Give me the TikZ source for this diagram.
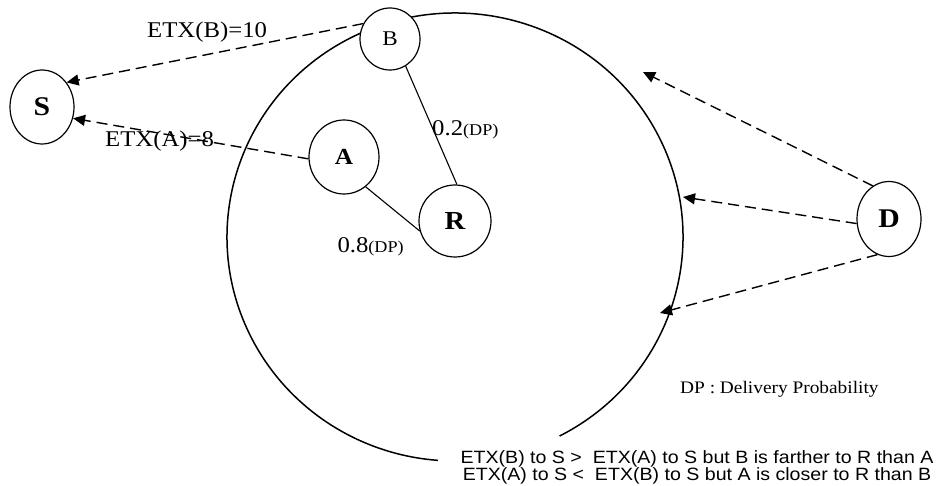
\documentclass[tikz,border=0pt]{standalone}
\usepackage{fontspec}
\setmainfont{Liberation Serif}[FakeStretch=1.1]
\newfontfamily\arialfont{Liberation Sans}[FakeStretch=1.1]
\usetikzlibrary{arrows.meta,shapes.geometric}
\begin{document}
\begin{tikzpicture}[x=1pt,y=1pt,
  nd/.style={draw,fill=white,ellipse,line width=1.2pt,inner sep=0pt},
  dasharrow/.style={line width=1.4pt,dash pattern=on 11pt off 6pt,-{Triangle[length=12pt,width=11pt]}},
  link/.style={line width=1.1pt},
  lbl/.style={inner sep=0pt,anchor=base west,font=\fontsize{22.5}{24}\selectfont}
]
\useasboundingbox (0,0) rectangle (945,485);
% big circle, open at the bottom
\draw[line width=1.5pt] ([shift={(297.3:228pt and 224pt)}]455,248) arc[start angle=297.3, end angle=625.7, x radius=228, y radius=224];
% nodes
\node[nd,minimum width=64pt,minimum height=74pt] (S) at (42,378) {\fontsize{27}{27}\selectfont\bfseries S};
\node[nd,minimum width=60pt,minimum height=62pt] (B) at (390,446) {\fontsize{21}{21}\selectfont B};
\node[nd,minimum width=70pt,minimum height=74pt] (A) at (344,328) {\fontsize{23}{23}\selectfont\bfseries A};
\node[nd,minimum width=72pt,minimum height=72pt] (R) at (455,264) {\fontsize{26}{26}\selectfont\bfseries R};
\node[nd,minimum width=64pt,minimum height=75pt] (D) at (889,266) {\fontsize{27}{27}\selectfont\bfseries D};
% free ends of D's arrows
\coordinate (t1) at (643,413);
\coordinate (t2) at (683,288);
\coordinate (t3) at (660,172);
% connectors
\draw[dasharrow] (B.150) -- (S.45);
\draw[dasharrow] (A.183) -- (S.-20);
\draw[link] (B.-60) -- (R.87);
\draw[link] (A.-54) -- (R.196);
\draw[dasharrow] (D.116) -- (t1);
\draw[dasharrow] (D.188) -- (t2);
\draw[dasharrow] (D.252) -- (t3);
% labels
\node[lbl] (lb) at (147,447.7) {ETX(B)=10};
\node[lbl] (la) at (105,338.3) {ETX(A)=8};
\node[lbl] (l2) at (432,349) {0.2{\fontsize{16.5}{18}\selectfont(DP)}};
\node[lbl] (l8) at (337.3,232.3) {0.8{\fontsize{16.5}{18}\selectfont(DP)}};
\node[inner sep=0pt,anchor=base west,font=\fontsize{17.6}{19}\selectfont] (dp) at (680,91.7) {DP : Delivery Probability};
\node[inner sep=0pt,align=center,font=\arialfont\fontsize{17.8}{16}\selectfont] (note) at (697,17.5)
  {ETX(B) to S >\ \ ETX(A) to S but B is farther to R than A\\ETX(A) to S <\ \ ETX(B) to S but A is closer to R than B};
\end{tikzpicture}
\end{document}
